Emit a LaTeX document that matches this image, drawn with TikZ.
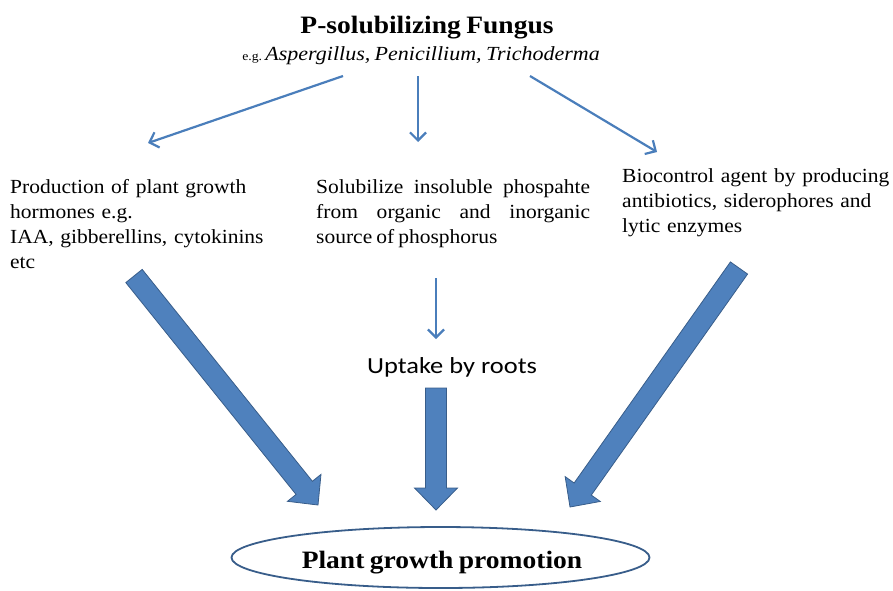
\documentclass[tikz,border=0pt]{standalone}
\usepackage{fontspec}
\setmainfont{Liberation Serif}[FakeStretch=1.1,WordSpace=0.8]
\newfontfamily\bodyfont{Liberation Serif}[FakeStretch=1.075,WordSpace=0.75]
\newfontfamily\upfont{Carlito}[FakeStretch=1.15]
\usetikzlibrary{arrows.meta,calc,shapes.geometric}
\hyphenpenalty=10000
\definecolor{arrblue}{HTML}{4A7EBB}
\definecolor{fillblue}{HTML}{4F81BD}
\definecolor{edgeblue}{HTML}{385D8A}
\tikzset{
  thin arrow/.style={draw=arrblue,line width=2.2pt,-{Straight Barb[length=8pt,width=16pt,line width=2.2pt]}},
  body text/.style={inner sep=0pt,anchor=north west,font=\bodyfont\fontsize{20}{25}\selectfont},
  fat/.style={fill=fillblue,draw=edgeblue,line width=0.8pt,line join=miter}
}
\newcommand{\fatarrow}[2]{%
  \path[fat] ($(#1)!10.5pt!90:(#2)$) -- ($($(#2)!22pt!(#1)$)!10.5pt!-90:(#1)$)
    -- ($($(#2)!22pt!(#1)$)!21.5pt!-90:(#1)$) -- (#2)
    -- ($($(#2)!22pt!(#1)$)!21.5pt!90:(#1)$) -- ($($(#2)!22pt!(#1)$)!10.5pt!90:(#1)$)
    -- ($(#1)!10.5pt!-90:(#2)$) -- cycle;}
\begin{document}
\begin{tikzpicture}[x=1pt,y=-1pt]
\useasboundingbox (0,0) rectangle (893,590);
% title
\node[anchor=base,inner sep=0pt,font=\fontsize{25}{30}\selectfont\bfseries] (title) at (427,33) {P-solubilizing Fungus};
\node[anchor=base,inner sep=0pt,font=\fontsize{20}{24}\selectfont] (sub) at (421,60)
  {{\fontsize{12.5}{15}\selectfont e.g.}\,\textit{Aspergillus, Penicillium, Trichoderma}};
% three text blocks
\node[body text,text width=275pt,align=left] (hormones) at (10,179)
  {Production of plant growth\\hormones e.g.\\IAA, gibberellins, cytokinins\\etc};
\node[body text,text width=274pt,align=justify] (solub) at (316,179)
  {Solubilize insoluble phospahte\linebreak from organic and inorganic\linebreak source of phosphorus};
\node[body text,text width=271pt,align=left] (bioc) at (622,168)
  {Biocontrol agent by producing\\antibiotics, siderophores and\\lytic enzymes};
\node[anchor=base,inner sep=0pt,font=\upfont\fontsize{23}{27}\selectfont] (uptake) at (452,373) {Uptake by roots};
% goal
\node[draw=edgeblue,line width=1.8pt,ellipse,minimum width=418pt,minimum height=61pt,inner sep=0pt] (goalring) at (440.5,557.5) {};
\node[anchor=base,inner sep=0pt,font=\fontsize{25}{30}\selectfont\bfseries] (goal) at (442,568) {Plant growth promotion};
% thin arrows
\coordinate (t1) at (343,76); \coordinate (h1) at (148,143);
\coordinate (t2) at (418,76); \coordinate (h2) at (418,142);
\coordinate (t3) at (530,76); \coordinate (h3) at (657,152);
\coordinate (t4) at (436,278); \coordinate (h4) at (436,339);
\draw[thin arrow] (t1) -- (h1);
\draw[thin arrow] (t2) -- (h2);
\draw[thin arrow] (t3) -- (h3);
\draw[thin arrow] (t4) -- (h4);
% fat arrows
\coordinate (f1) at (134,276); \coordinate (g1) at (318,505);
\coordinate (f2) at (436,388); \coordinate (g2) at (436,510);
\coordinate (f3) at (739,268); \coordinate (g3) at (570,507);
\fatarrow{f1}{g1}
\fatarrow{f2}{g2}
\fatarrow{f3}{g3}
\end{tikzpicture}
\end{document}
